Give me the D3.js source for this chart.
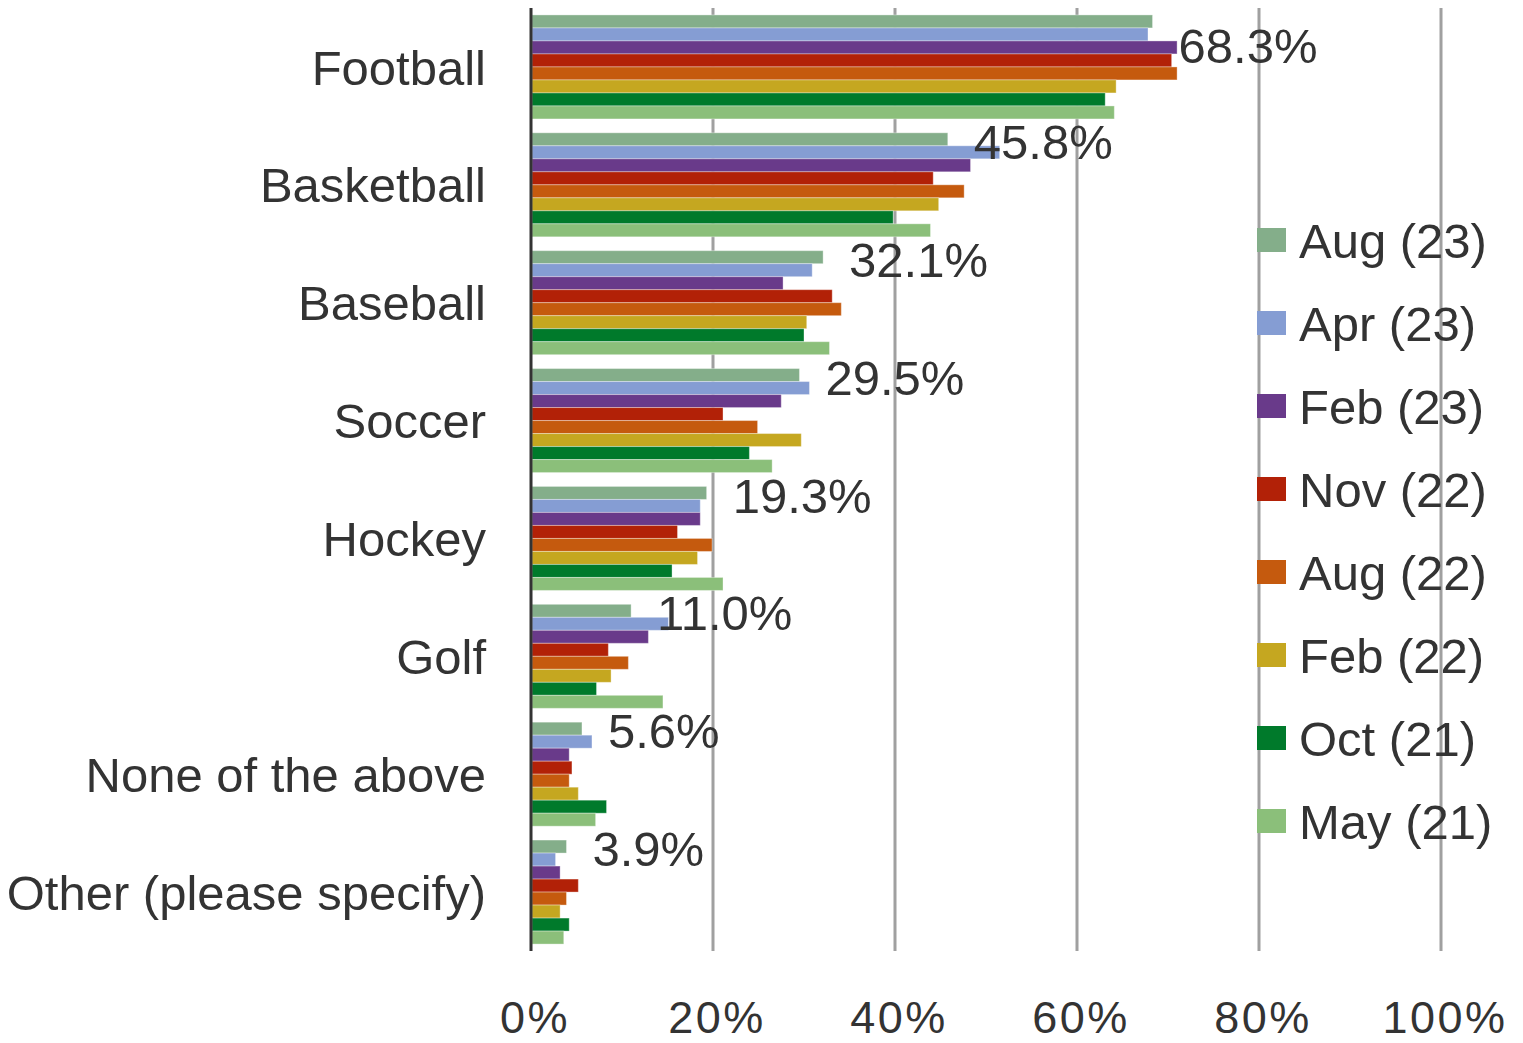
<!DOCTYPE html>
<html>
<head>
<meta charset="utf-8">
<script src="https://cdn.jsdelivr.net/npm/d3@7"></script>
<style>
  html, body { margin: 0; padding: 0; background: #fff; }
  svg text { font-family: "Liberation Sans", Arial, sans-serif; fill: #333; }
</style>
</head>
<body>
<svg id="chart" width="1523" height="1043"></svg>
<script>
const categories = ["Football", "Basketball", "Baseball", "Soccer", "Hockey", "Golf", "None of the above", "Other (please specify)"];
const seriesNames = ["Aug (23)", "Apr (23)", "Feb (23)", "Nov (22)", "Aug (22)", "Feb (22)", "Oct (21)", "May (21)"];
const seriesColors = ["#84AE8A", "#859DD3", "#693A8A", "#B22107", "#C55A0E", "#C5A720", "#007A2B", "#8BBF7A"];
// values in %, one array per series, ordered like categories
const aug23 = [68.3, 45.8, 32.1, 29.5, 19.3, 11.0, 5.6, 3.9];
const apr23 = [67.8, 51.5, 30.9, 30.6, 18.6, 15.1, 6.7, 2.7];
const feb23 = [71.0, 48.3, 27.7, 27.5, 18.6, 12.9, 4.2, 3.2];
const nov22 = [70.4, 44.2, 33.1, 21.1, 16.1, 8.5, 4.5, 5.2];
const aug22 = [71.0, 47.6, 34.1, 24.9, 19.9, 10.7, 4.2, 3.9];
const feb22 = [64.3, 44.8, 30.3, 29.7, 18.3, 8.8, 5.2, 3.2];
const oct21 = [63.1, 39.8, 30.0, 24.0, 15.5, 7.2, 8.3, 4.2];
const may21 = [64.1, 43.9, 32.8, 26.5, 21.1, 14.5, 7.1, 3.6];
const xTicks = [0, 20, 40, 60, 80, 100];
const tickLabels = ["0%", "20%", "40%", "60%", "80%", "100%"];

const seriesValues = [aug23, apr23, feb23, nov22, aug22, feb22, oct21, may21];

const svg = d3.select("#chart");
const plot = { left: 531, right: 1441, top: 8, bottom: 951 };

const x = d3.scaleLinear().domain([0, 100]).range([plot.left, plot.right]);
const y0 = d3.scaleBand().domain(categories).range([plot.top, plot.bottom]).padding(0);
const y1 = d3.scaleBand().domain(seriesNames).range([0, y0.bandwidth()]).paddingInner(0).paddingOuter(0.533);
const color = d3.scaleOrdinal().domain(seriesNames).range(seriesColors);

// gridlines
svg.append("g").selectAll("line")
  .data(xTicks.filter(t => t > 0))
  .join("line")
  .attr("x1", d => x(d)).attr("x2", d => x(d))
  .attr("y1", plot.top).attr("y2", plot.bottom)
  .attr("stroke", "#A0A0A0").attr("stroke-width", 3);

// bars
const rows = [];
categories.forEach((c, ci) => {
  seriesNames.forEach((s, si) => rows.push({ cat: c, series: s, value: seriesValues[si][ci] }));
});
svg.append("g").selectAll("rect")
  .data(rows)
  .join("rect")
  .attr("x", x(0) + 1)
  .attr("y", d => y0(d.cat) + y1(d.series))
  .attr("width", d => x(d.value) - x(0) - 1)
  .attr("height", y1.bandwidth())
  .attr("fill", d => color(d.series))
  .attr("stroke", "rgba(255,255,255,0.35)")
  .attr("stroke-width", 1);

// axis line
svg.append("line")
  .attr("x1", x(0)).attr("x2", x(0))
  .attr("y1", plot.top).attr("y2", plot.bottom)
  .attr("stroke", "#333").attr("stroke-width", 3);

// category labels
svg.append("g").selectAll("text")
  .data(categories)
  .join("text")
  .attr("x", 486)
  .attr("y", d => y0(d) + y0.bandwidth() / 2)
  .attr("dy", "0.36em")
  .attr("text-anchor", "end")
  .attr("font-size", 49)
  .text(d => d);

// x tick labels
svg.append("g").selectAll("text")
  .data(xTicks)
  .join("text")
  .attr("x", d => x(d) + 4)
  .attr("y", 1033)
  .attr("text-anchor", "middle")
  .attr("font-size", 45)
  .attr("letter-spacing", 2.5)
  .text((d, i) => tickLabels[i]);

// data labels for first series (Aug 23)
svg.append("g").selectAll("text")
  .data(categories)
  .join("text")
  .attr("x", (d, i) => x(aug23[i]) + 26)
  .attr("y", d => Math.max(y0(d) + y1(seriesNames[0]) + y1.bandwidth() / 2 + 2, plot.top + 37))
  .attr("dy", "0.36em")
  .attr("font-size", 49)
  .text((d, i) => aug23[i].toFixed(1) + "%");

// legend
const legend = svg.append("g");
const lg = legend.selectAll("g")
  .data(seriesNames)
  .join("g")
  .attr("transform", (d, i) => `translate(1257, ${240 + i * 83})`);
lg.append("rect")
  .attr("x", 0).attr("y", -12)
  .attr("width", 29).attr("height", 24)
  .attr("fill", d => color(d));
lg.append("text")
  .attr("x", 42).attr("y", 0)
  .attr("dy", "0.36em")
  .attr("font-size", 49)
  .text(d => d);
</script>
</body>
</html>
